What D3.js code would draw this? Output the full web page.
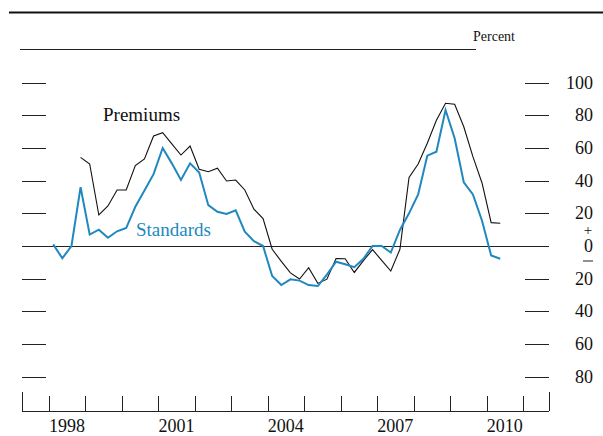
<!DOCTYPE html>
<html>
<head>
<meta charset="utf-8">
<script src="https://cdn.jsdelivr.net/npm/d3@7"></script>
<style>
  body { margin: 0; background: #fff; }
  svg text { font-family: "Liberation Serif", "Times New Roman", serif; fill: #111; }
</style>
</head>
<body>
<svg id="chart" width="603" height="436"></svg>
<script>
// quarterly, starting 1998:Q1
const startYear = 1998;
const standards = [1, -7.5, 0, 36, 7, 10, 5, 9, 11, 24, 34, 44, 60, 50.6, 40.4, 50.6,
    45, 25, 21, 19.6, 21.8, 8.8, 3, 0, -18.4, -23.9, -20.4, -21.2, -23.9, -24.5, -17.5, -9.6,
    -11.2, -13, -7.8, 0, 0, -4, 9.8, 20, 31.6, 55.3, 57.7, 83.3, 66, 39, 31.6, 15.5,
    -5.8, -7.8];
// premiums series starts 1998:Q4
const premiums = [null, null, null, 54.3, 50.2, 19, 24.5, 34.3, 34.3, 49.2, 53.3, 67.4, 69.4, 62.5, 55.7, 61.2,
    47, 45.5, 47.6, 39.8, 40.4, 34.3, 22.5, 16.8, -2, -9.4, -16.5, -20.2, -13.3, -22.9, -20.3, -7.7,
    -7.8, -16.2, -9, -2.2, -8.8, -15.3, -2, 42, 50.2, 62.9, 77, 87.4, 86.8, 73, 54.7, 38.6,
    14.3, 13.9];
const yTicks = [100, 80, 60, 40, 20, 0, -20, -40, -60, -80];
const yearTicks = d3.range(1998, 2012);
const yearLabels = [1998, 2001, 2004, 2007, 2010];

const blue = '#2088bf';
const svg = d3.select('#chart');

const x = d3.scaleLinear().domain([1997.27, 2011.71]).range([22, 549]);
const y = d3.scaleLinear().domain([-100, 100]).range([409.3, 82.7]);
const t = i => startYear + i / 4 + 0.125;

// top rules and unit label
svg.append('line').attr('x1', 9).attr('x2', 603).attr('y1', 12.5).attr('y2', 12.5)
    .attr('stroke', '#111').attr('stroke-width', 2.2);
svg.append('line').attr('x1', 20).attr('x2', 476).attr('y1', 49.5).attr('y2', 49.5)
    .attr('stroke', '#222').attr('stroke-width', 1);
svg.append('text').attr('x', 515).attr('y', 40.5).attr('text-anchor', 'end')
    .style('font-size', '14px').text('Percent');

// left and right tick marks
const ticksNoZero = yTicks.filter(d => d !== 0);
svg.selectAll('.lt').data(ticksNoZero).enter().append('line')
    .attr('x1', 22).attr('x2', 46)
    .attr('y1', d => Math.round(y(d)) + 0.5).attr('y2', d => Math.round(y(d)) + 0.5)
    .attr('stroke', '#222');
svg.selectAll('.rt').data(ticksNoZero).enter().append('line')
    .attr('x1', 525).attr('x2', 549)
    .attr('y1', d => Math.round(y(d)) + 0.5).attr('y2', d => Math.round(y(d)) + 0.5)
    .attr('stroke', '#222');
svg.selectAll('.rl').data(yTicks).enter().append('text')
    .attr('x', 593).attr('y', d => y(d) + 6).attr('text-anchor', 'end')
    .style('font-size', '18px').text(d => Math.abs(d));
svg.append('text').attr('x', 588).attr('y', y(0) - 11.5).attr('text-anchor', 'middle')
    .style('font-size', '15px').text('+');
svg.append('line').attr('x1', 583).attr('x2', 593).attr('y1', y(0) + 15).attr('y2', y(0) + 15)
    .attr('stroke', '#222');

// zero line
svg.append('line').attr('x1', 22).attr('x2', 549)
    .attr('y1', Math.round(y(0)) + 0.5).attr('y2', Math.round(y(0)) + 0.5)
    .attr('stroke', '#222');

// bottom axis
svg.append('line').attr('x1', 22).attr('x2', 549).attr('y1', 411.5).attr('y2', 411.5)
    .attr('stroke', '#222');
svg.selectAll('.xt').data(yearTicks).enter().append('line')
    .attr('x1', d => Math.round(x(d)) + 0.5).attr('x2', d => Math.round(x(d)) + 0.5)
    .attr('y1', 396).attr('y2', 411).attr('stroke', '#222');
[22, 549].forEach(px => {
    svg.append('line').attr('x1', px + 0.5).attr('x2', px + 0.5).attr('y1', 392).attr('y2', 411)
        .attr('stroke', '#222');
});
svg.selectAll('.xl').data(yearLabels).enter().append('text')
    .attr('x', d => x(d + 0.5)).attr('y', 432).attr('text-anchor', 'middle')
    .style('font-size', '18px').text(d => d);

// series
const line = d3.line()
    .defined(d => d != null)
    .x((d, i) => x(t(i)))
    .y(d => y(d));

svg.append('path').datum(premiums).attr('d', line)
    .attr('fill', 'none').attr('stroke', '#111').attr('stroke-width', 1.1);
svg.append('path').datum(standards).attr('d', line)
    .attr('fill', 'none').attr('stroke', blue).attr('stroke-width', 2);

svg.append('text').attr('x', 103).attr('y', 121).style('font-size', '19px').text('Premiums');
svg.append('text').attr('x', 136).attr('y', 236).style('font-size', '19px')
    .style('fill', blue).text('Standards');
</script>
</body>
</html>
